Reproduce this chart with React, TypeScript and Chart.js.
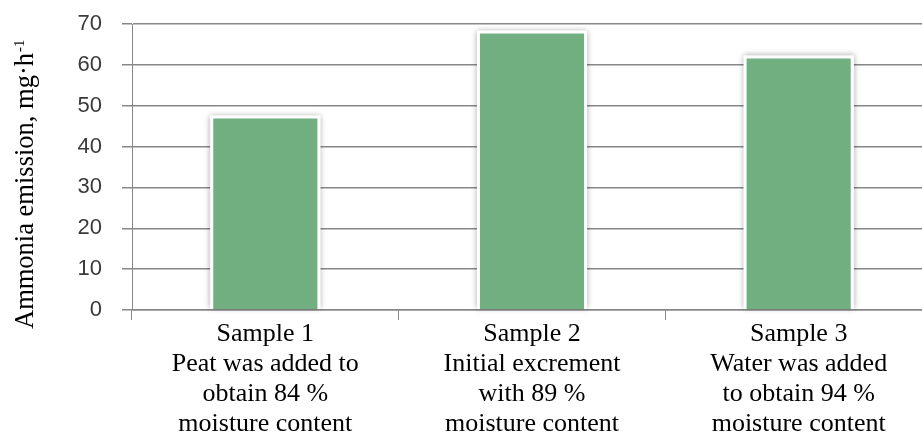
import React, { useEffect, useRef } from "react";
import { Chart, registerables } from "chart.js";

Chart.register(...registerables);

const categories: string[][] = [
  ["Sample 1", "Peat was added to", "obtain 84 %", "moisture content"],
  ["Sample 2", "Initial excrement", "with 89 %", "moisture content"],
  ["Sample 3", "Water was added", "to obtain 94 %", "moisture content"],
];
const emissionValues: number[] = [47.6, 68.4, 62.3];
const yTitleMain = "Ammonia emission, mg·h";
const yTitleSup = "-1";
const yMin = 0;
const yMax = 70;
const yStep = 10;

const BAR_COLOR = "#71AF81";
const GRID_COLOR = "#878787";

const shadowPlugin = {
  id: "barShadow",
  beforeDatasetsDraw(chart: any) {
    const ctx = chart.ctx;
    const meta = chart.getDatasetMeta(0);
    ctx.save();
    ctx.shadowColor = "rgba(0,0,0,0.35)";
    ctx.shadowBlur = 6;
    ctx.shadowOffsetX = 0;
    ctx.shadowOffsetY = 0;
    ctx.fillStyle = "#ffffff";
    meta.data.forEach((bar: any) => {
      const p = bar.getProps(["x", "y", "base", "width"], true);
      const left = p.x - p.width / 2;
      const top = Math.min(p.y, p.base);
      const h = Math.abs(p.base - p.y);
      ctx.fillRect(left, top, p.width, h - 1);
    });
    ctx.restore();
  },
};

const yTitlePlugin = {
  id: "yTitle",
  afterDraw(chart: any) {
    const ctx = chart.ctx;
    ctx.save();
    ctx.translate(33, 329);
    ctx.rotate(-Math.PI / 2);
    ctx.fillStyle = "#000000";
    ctx.textBaseline = "alphabetic";
    ctx.textAlign = "left";
    ctx.font = '26.5px "Liberation Serif", "Times New Roman", serif';
    ctx.fillText(yTitleMain, 0, 0);
    const w = ctx.measureText(yTitleMain).width;
    ctx.font = '15px "Liberation Serif", "Times New Roman", serif';
    ctx.fillText(yTitleSup, w + 1, -9);
    ctx.restore();
  },
};

export default function App() {
  const canvasRef = useRef<HTMLCanvasElement | null>(null);

  useEffect(() => {
    if (!canvasRef.current) return;
    const chart = new Chart(canvasRef.current, {
      type: "bar",
      data: {
        labels: categories,
        datasets: [
          {
            data: emissionValues,
            backgroundColor: BAR_COLOR,
            borderColor: "#ffffff",
            borderWidth: 3,
            borderSkipped: "start",
            barPercentage: 0.413,
            categoryPercentage: 1,
          },
        ],
      },
      options: {
        responsive: false,
        animation: false,
        devicePixelRatio: 1,
        layout: { padding: { top: 24, right: 18, left: 0, bottom: 0 } },
        plugins: {
          legend: { display: false },
          tooltip: { enabled: false },
        },
        scales: {
          x: {
            offset: true,
            grid: {
              display: true,
              offset: true,
              drawOnChartArea: false,
              drawTicks: true,
              tickLength: 10,
              color: GRID_COLOR,
              lineWidth: 1,
            },
            border: { display: true, color: GRID_COLOR, width: 1.5 },
            ticks: {
              color: "#000000",
              padding: -1,
              maxRotation: 0,
              autoSkip: false,
              font: {
                family: '"Liberation Serif", "Times New Roman", serif',
                size: 26,
                lineHeight: "30px",
              },
            },
            afterFit(scale: any) {
              scale.height = 127;
            },
          },
          y: {
            min: yMin,
            max: yMax,
            grid: {
              color: GRID_COLOR,
              lineWidth: 1.5,
              tickLength: 10,
            },
            border: { display: true, color: GRID_COLOR, width: 1 },
            ticks: {
              stepSize: yStep,
              padding: 20,
              color: "#3a3a3a",
              font: {
                family: '"Liberation Sans Narrow", "Liberation Sans", sans-serif',
                size: 22,
              },
            },
            afterFit(scale: any) {
              scale.width = 132;
              scale.paddingTop = 0;
              scale.paddingBottom = 0;
            },
          },
        },
      },
      plugins: [shadowPlugin, yTitlePlugin],
    });
    return () => chart.destroy();
  }, []);

  return (
    <div
      style={{
        position: "fixed",
        left: 0,
        top: 0,
        width: 922,
        height: 437,
        overflow: "hidden",
        background: "#ffffff",
      }}
    >
      <canvas ref={canvasRef} width={950} height={437} style={{ display: "block" }} />
    </div>
  );
}
